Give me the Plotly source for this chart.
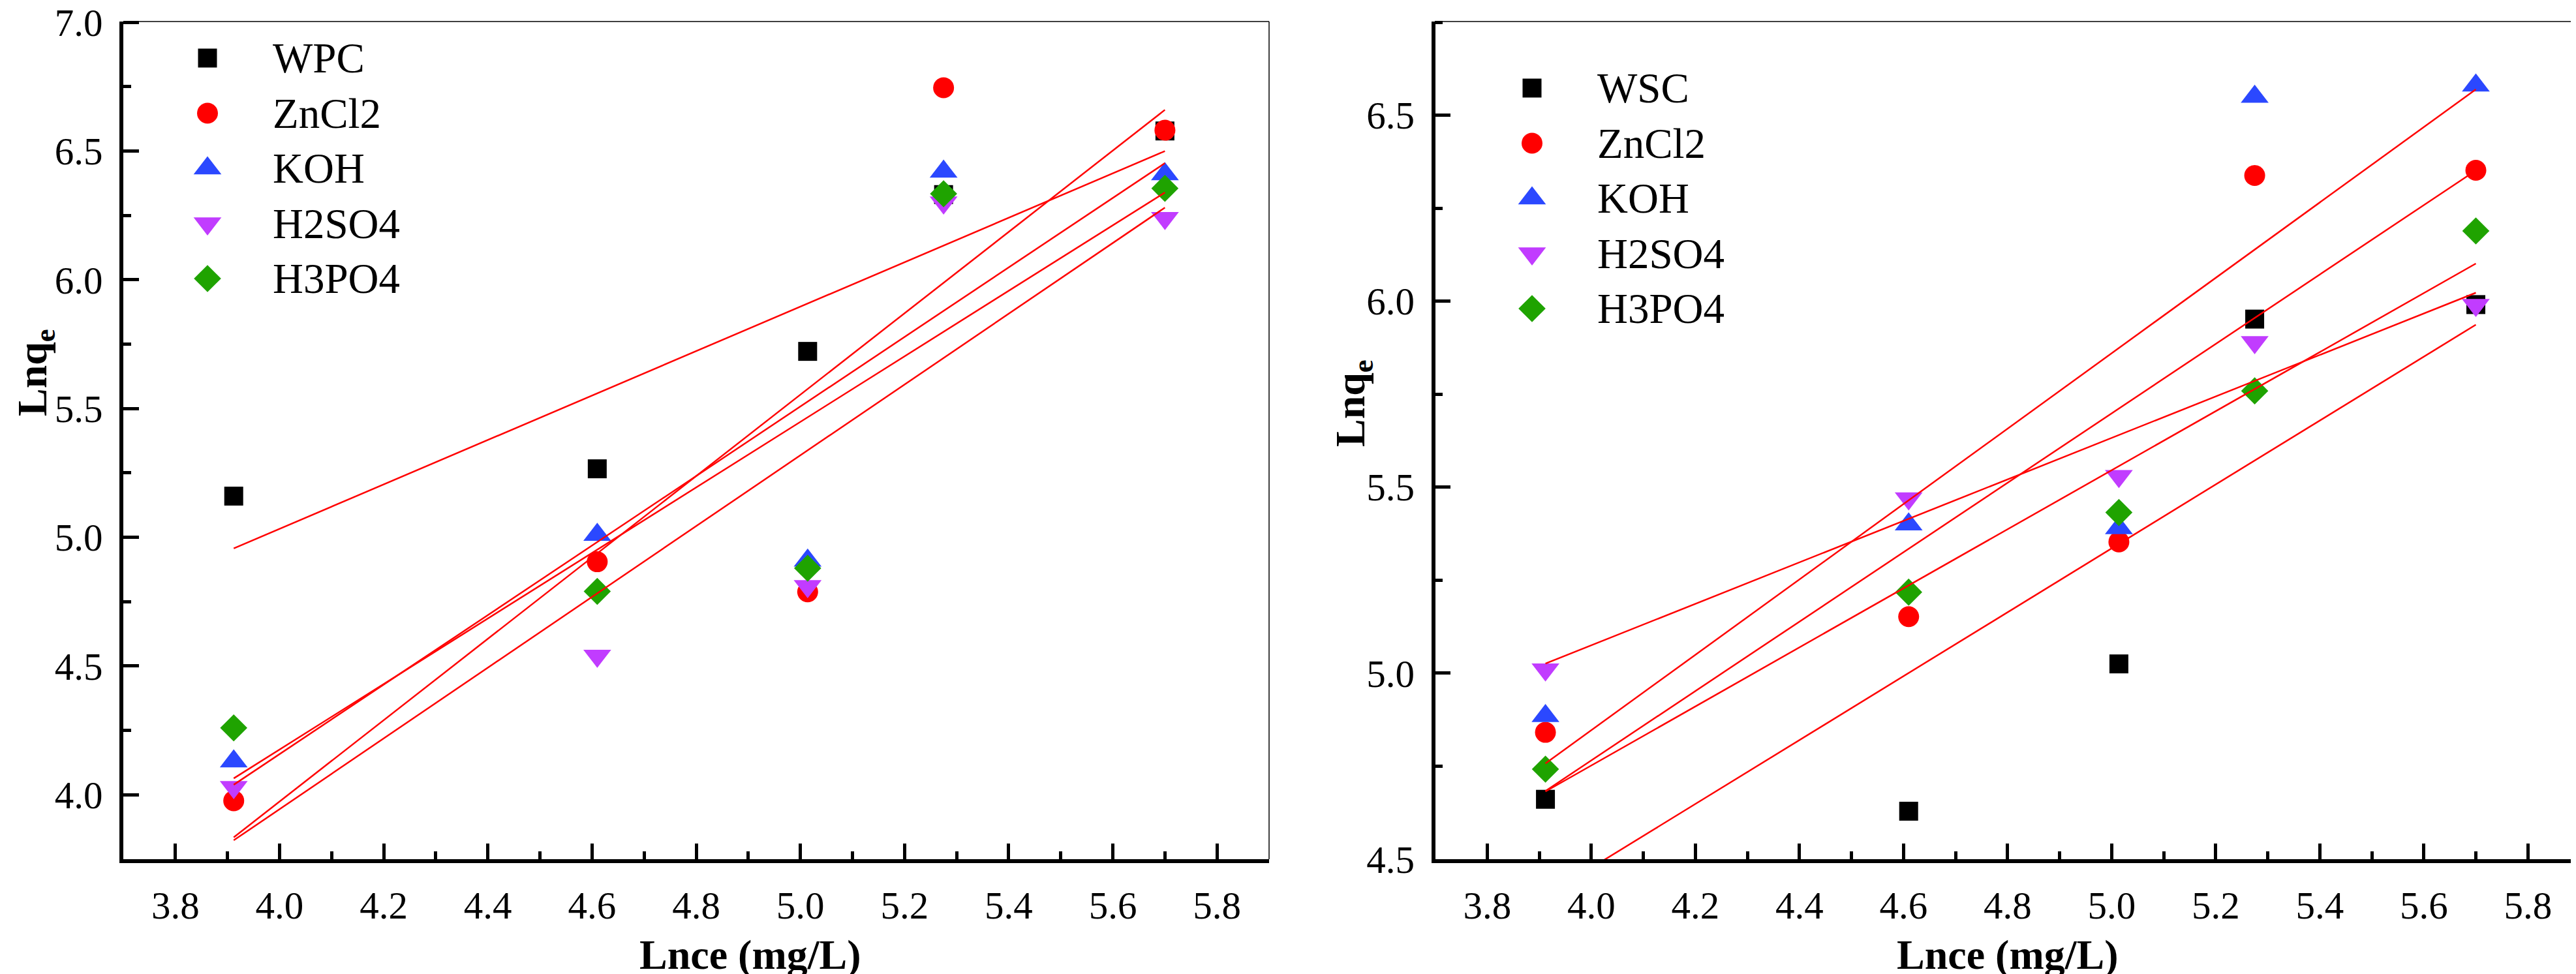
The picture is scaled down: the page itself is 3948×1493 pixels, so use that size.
import numpy as np
import plotly.graph_objects as go

W, H = 3948, 1493

# ---------------- data ----------------
lnce = [3.912, 4.610, 5.014, 5.275, 5.700]

left_names = ["WPC", "ZnCl2", "KOH", "H2SO4", "H3PO4"]
right_names = ["WSC", "ZnCl2", "KOH", "H2SO4", "H3PO4"]

wpc_base = [5.160, 5.266, 5.722, 6.331, 6.578]
wpc_zncl2 = [3.977, 4.905, 4.788, 6.746, 6.581]
wpc_koh = [4.13, 5.01, 4.91, 6.42, 6.41]
wpc_h2so4 = [4.03, 4.54, 4.81, 6.30, 6.24]
wpc_h3po4 = [4.26, 4.79, 4.88, 6.334, 6.355]

wsc_base = [4.661, 4.629, 5.025, 5.952, 5.991]
wsc_zncl2 = [4.841, 5.152, 5.353, 6.338, 6.352]
wsc_koh = [4.885, 5.40, 5.39, 6.55, 6.58]
wsc_h2so4 = [5.01, 5.47, 5.53, 5.89, 5.99]
wsc_h3po4 = [4.742, 5.218, 5.432, 5.759, 6.189]

left_values = [wpc_base, wpc_zncl2, wpc_koh, wpc_h2so4, wpc_h3po4]
right_values = [wsc_base, wsc_zncl2, wsc_koh, wsc_h2so4, wsc_h3po4]

x_ticks = [3.8, 4.0, 4.2, 4.4, 4.6, 4.8, 5.0, 5.2, 5.4, 5.6, 5.8]
left_y_ticks = [4.0, 4.5, 5.0, 5.5, 6.0, 6.5, 7.0]
right_y_ticks = [4.5, 5.0, 5.5, 6.0, 6.5]

# ---------------- styles ----------------
symbols = ["square", "circle", "triangle-up", "triangle-down", "diamond"]
colors = ["#000000", "#FF0000", "#2B48FF", "#C13CFF", "#1FA300"]
sizes = [29, 32, 37, 37, 32]
FIT_COLOR = "#FF0000"
SERIF = "Liberation Serif"

fig = go.Figure()


def add_panel(values, xa, ya):
    for vals, sym, col, sz in zip(values, symbols, colors, sizes):
        fig.add_trace(go.Scatter(
            x=lnce, y=vals, mode="markers", xaxis=xa, yaxis=ya,
            marker=dict(symbol=sym, color=col, size=sz, line=dict(width=0)),
            showlegend=False, cliponaxis=False))
    for vals in values:
        slope, icpt = np.polyfit(lnce, vals, 1)
        xs = [min(lnce), max(lnce)]
        fig.add_trace(go.Scatter(
            x=xs, y=[slope * v + icpt for v in xs], mode="lines",
            xaxis=xa, yaxis=ya, line=dict(color=FIT_COLOR, width=2.5),
            showlegend=False))


add_panel(left_values, "x", "y")
add_panel(right_values, "x2", "y2")

# ---------------- legends (drawn on a full-figure pixel overlay) ----------------
legend_specs = [
    (left_names, 310, 408, 81),
    (right_names, 2340, 2438, 127),
]
ROW_STEP = 84.5
annotations = []
for names, mx, tx, y0 in legend_specs:
    for i, (nm, sym, col, sz) in enumerate(zip(names, symbols, colors, sizes)):
        ry = y0 + ROW_STEP * i
        fig.add_trace(go.Scatter(
            x=[mx], y=[ry], mode="markers", xaxis="x3", yaxis="y3",
            marker=dict(symbol=sym, color=col, size=sz, line=dict(width=0)),
            showlegend=False, hoverinfo="skip", cliponaxis=False))
        annotations.append(dict(
            x=tx, y=ry, xref="x3", yref="y3", text=nm, showarrow=False,
            xanchor="left", yanchor="middle",
            font=dict(family=SERIF, size=65, color="black")))

# axis titles
TITLE_FONT = dict(family=SERIF, size=64, color="black")
for cx in (1142, 3069):
    annotations.append(dict(x=cx, y=1455, xref="x3", yref="y3",
                            text="<b>Lnce (mg/L)</b>", showarrow=False,
                            xanchor="center", yanchor="middle", font=TITLE_FONT))
for cx, cy in ((46, 563), (2066, 610)):
    annotations.append(dict(x=cx, y=cy, xref="x3", yref="y3",
                            text="<b>Lnq<sub>e</sub></b>", showarrow=False,
                            textangle=-90, xanchor="center", yanchor="middle",
                            font=TITLE_FONT))

# ---------------- axes ----------------
TICK_FONT = dict(family=SERIF, size=59, color="black")
y_dom = [(H - 1309) / H, (H - 25) / H]


def xaxis(domain, anchor):
    return dict(domain=domain, anchor=anchor, range=[3.7, 5.9],
                tickmode="array", tickvals=x_ticks,
                ticktext=[f"{v:.1f}" for v in x_ticks],
                ticks="inside", ticklen=24, tickwidth=4.5, tickcolor="black",
                minor=dict(ticks="inside", ticklen=12, tickwidth=4.5,
                           tickcolor="black", dtick=0.2, tick0=3.7),
                showline=True, linewidth=5.5, linecolor="black",
                showgrid=False, zeroline=False, automargin=False,
                tickfont=TICK_FONT, ticklabelstandoff=14, fixedrange=True)


def yaxis(rng, ticks, anchor):
    return dict(domain=y_dom, anchor=anchor, range=rng,
                tickmode="array", tickvals=ticks,
                ticktext=[f"{v:.1f}" for v in ticks],
                ticks="inside", ticklen=24, tickwidth=4.5, tickcolor="black",
                minor=dict(ticks="inside", ticklen=12, tickwidth=4.5,
                           tickcolor="black", dtick=0.5, tick0=0.25),
                showline=True, linewidth=5.5, linecolor="black",
                showgrid=False, zeroline=False, automargin=False,
                tickfont=TICK_FONT, ticklabelstandoff=14, fixedrange=True,
                ticklabeloverflow="allow")


left_dom = [181 / W, 1937 / W]
right_dom = [2191.5 / W, 3946 / W]

shapes = []
for xr, yr in (("x", "y"), ("x2", "y2")):
    shapes.append(dict(type="line", xref=f"{xr} domain", yref=f"{yr} domain",
                       x0=0, x1=1, y0=1, y1=1, line=dict(color="black", width=1.5)))
    shapes.append(dict(type="line", xref=f"{xr} domain", yref=f"{yr} domain",
                       x0=1, x1=1, y0=0, y1=1, line=dict(color="black", width=1.5)))

fig.update_layout(
    width=W, height=H, autosize=False,
    margin=dict(l=0, r=0, t=0, b=0, pad=0),
    paper_bgcolor="white", plot_bgcolor="rgba(0,0,0,0)",
    showlegend=False,
    xaxis=xaxis(left_dom, "y"),
    yaxis=yaxis([3.75, 7.003], left_y_ticks, "x"),
    xaxis2=xaxis(right_dom, "y2"),
    yaxis2=yaxis([4.5, 6.752], right_y_ticks, "x2"),
    xaxis3=dict(domain=[0, 1], anchor="y3", range=[0, W], visible=False,
                fixedrange=True),
    yaxis3=dict(domain=[0, 1], anchor="x3", range=[H, 0], visible=False,
                fixedrange=True),
    annotations=annotations,
    shapes=shapes,
)

fig.write_html("out.html")
